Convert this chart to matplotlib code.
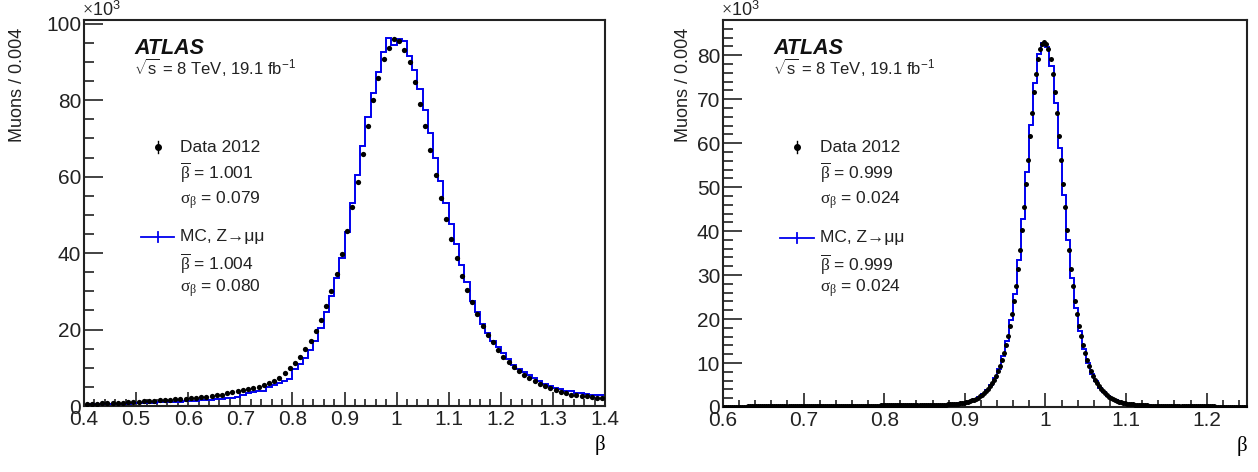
import numpy as np
import matplotlib
matplotlib.use("Agg")
import matplotlib.pyplot as plt
from matplotlib.ticker import MultipleLocator

plt.rcParams['font.family'] = ['Liberation Sans', 'DejaVu Sans']
plt.rcParams['mathtext.fontset'] = 'custom'
plt.rcParams['mathtext.rm'] = 'Liberation Serif'
plt.rcParams['mathtext.it'] = 'Liberation Serif:italic'
plt.rcParams['mathtext.sf'] = 'Liberation Sans'
plt.rcParams['mathtext.default'] = 'rm'

# ---- left panel: data points every 0.01, MC histogram bins of 0.01 (x1000 muons)
left_lo, left_hi, left_w = 0.4, 1.4, 0.01
data_left = [
    0.55, 0.6, 0.65, 0.7, 0.75, 0.8, 0.85, 0.9, 0.95, 1.0,
    1.15, 1.2, 1.3, 1.4, 1.45, 1.55, 1.65, 1.75, 1.85, 1.95,
    2.05, 2.15, 2.3, 2.45, 2.6, 2.8, 3.0, 3.3, 3.6, 3.9,
    4.2, 4.4, 4.6, 4.9, 5.5, 6.1, 6.5, 7.2, 8.6, 9.9,
    11.2, 12.9, 14.9, 17.0, 19.6, 22.6, 26.2, 30.2, 34.6, 39.8,
    45.8, 52.2, 58.6, 65.9, 73.3, 80.1, 85.8, 90.9, 93.8, 96.0,
    95.6, 93.2, 90.1, 84.8, 78.9, 73.3, 67.0, 60.4, 54.4, 48.9,
    43.7, 38.8, 34.1, 30.4, 27.1, 24.0, 21.0, 18.6, 16.7, 14.7,
    12.9, 11.6, 10.3, 9.2, 8.1, 7.3, 6.6, 5.8, 5.2, 4.7,
    4.2, 3.7, 3.3, 3.0, 2.8, 2.6, 2.5, 2.3, 2.2, 2.1,
]
mc_left = [
    0.35, 0.4, 0.45, 0.5, 0.5, 0.55, 0.6, 0.6, 0.65, 0.7,
    0.75, 0.8, 0.85, 0.9, 0.95, 1.0, 1.05, 1.1, 1.15, 1.2,
    1.3, 1.35, 1.45, 1.55, 1.65, 1.75, 1.85, 2.0, 2.15, 2.3,
    3.0, 3.3, 3.6, 3.8, 4.0, 5.0, 5.5, 6.0, 6.5, 7.0,
    9.6, 11.0, 12.6, 14.6, 17.0, 20.3, 24.5, 28.8, 33.5, 38.8,
    45.5, 53.0, 60.5, 68.0, 75.5, 82.0, 87.5, 92.5, 96.3, 94.5,
    96.0, 95.5, 91.5, 88.0, 83.0, 77.5, 71.5, 65.0, 59.0, 53.0,
    47.5, 42.5, 37.0, 32.5, 27.5, 24.5, 21.5, 19.0, 17.0, 15.5,
    13.8, 12.2, 10.8, 9.8, 9.0, 8.0, 7.3, 6.5, 5.8, 5.2,
    4.8, 4.4, 4.0, 3.8, 3.5, 3.3, 3.1, 2.9, 2.8, 2.8,
]

# ---- right panel: data points every 0.0025, MC bins of 0.005 (x1000 muons)
right_lo, right_hi = 0.6, 1.25
right_dw, right_mw = 0.0025, 0.005
data_right = [
    0.10, 0.10, 0.10, 0.10, 0.10, 0.11, 0.11, 0.11, 0.11, 0.11,
    0.11, 0.11, 0.12, 0.12, 0.12, 0.12, 0.12, 0.12, 0.12, 0.13,
    0.13, 0.13, 0.13, 0.13, 0.13, 0.14, 0.14, 0.14, 0.14, 0.14,
    0.15, 0.15, 0.15, 0.15, 0.15, 0.16, 0.16, 0.16, 0.16, 0.17,
    0.17, 0.17, 0.17, 0.18, 0.18, 0.18, 0.19, 0.19, 0.19, 0.20,
    0.20, 0.20, 0.21, 0.21, 0.22, 0.22, 0.22, 0.23, 0.23, 0.24,
    0.24, 0.25, 0.25, 0.26, 0.26, 0.27, 0.27, 0.28, 0.29, 0.29,
    0.30, 0.30, 0.31, 0.32, 0.32, 0.33, 0.34, 0.34, 0.35, 0.36,
    0.36, 0.37, 0.38, 0.38, 0.39, 0.40, 0.41, 0.41, 0.42, 0.43,
    0.44, 0.44, 0.45, 0.46, 0.46, 0.47, 0.47, 0.48, 0.48, 0.49,
    0.49, 0.49, 0.50, 0.50, 0.50, 0.51, 0.51, 0.51, 0.52,
    0.52, 0.55, 0.58, 0.61, 0.65, 0.69, 0.74, 0.79, 0.85, 0.92,
    1.0, 1.1, 1.22, 1.35, 1.5, 1.7, 1.9, 2.15, 2.45, 2.8,
    3.15, 3.6, 4.1, 4.7, 5.4, 6.2, 7.1, 8.1, 9.3, 10.7,
    12.3, 14.1, 16.1, 18.4, 21.1, 24.1, 27.5, 31.3, 35.6, 40.3,
    45.4, 50.8, 56.2, 61.6, 66.8, 71.6, 75.8, 79.2, 81.3, 82.5,
    83.0,
    82.5, 81.3, 79.2, 75.8, 71.6, 66.8, 61.6, 56.2, 50.8, 45.4,
    40.3, 35.6, 31.3, 27.5, 24.1, 21.1, 18.4, 16.1, 14.1, 12.3,
    10.7, 9.3, 8.1, 7.1, 6.2, 5.4, 4.7, 4.1, 3.55, 3.1,
    2.7, 2.35, 2.05, 1.8, 1.6, 1.4, 1.22, 1.08, 0.96, 0.86,
    0.78, 0.71, 0.65, 0.60, 0.55, 0.51, 0.47, 0.44, 0.41, 0.38,
    0.36, 0.34, 0.32, 0.30, 0.29, 0.28, 0.27, 0.26, 0.25, 0.24,
    0.23, 0.22, 0.215, 0.21, 0.20, 0.195, 0.19, 0.18, 0.175, 0.17,
    0.165, 0.16, 0.155, 0.15, 0.145, 0.14, 0.14, 0.135, 0.13, 0.13,
    0.125, 0.12, 0.12, 0.115, 0.11, 0.11, 0.105, 0.105, 0.10, 0.10,
    0.095, 0.095, 0.09, 0.09, 0.09, 0.085, 0.085, 0.08, 0.08, 0.08,
]
mc_right = [
    0.10, 0.10, 0.105, 0.11, 0.11, 0.11, 0.12, 0.12, 0.12, 0.125,
    0.13, 0.13, 0.135, 0.14, 0.14, 0.15, 0.15, 0.155, 0.16, 0.165,
    0.17, 0.175, 0.18, 0.19, 0.195, 0.20, 0.21, 0.22, 0.225, 0.235,
    0.245, 0.255, 0.265, 0.275, 0.29, 0.30, 0.315, 0.325, 0.34, 0.355,
    0.365, 0.38, 0.395, 0.41, 0.425, 0.44, 0.455, 0.47, 0.475, 0.485,
    0.49, 0.50, 0.505, 0.51, 0.52,
    0.565, 0.63, 0.715, 0.82, 0.96, 1.16, 1.43, 1.8, 2.3, 2.98,
    3.85, 5.05, 6.65, 8.7, 11.5, 15.1, 19.75, 25.8, 33.45, 42.85,
    53.5, 64.2, 73.7, 80.25, 82.75, 81.9, 77.5, 69.2, 58.9, 48.1,
    37.95, 29.4, 22.6, 17.25, 13.2, 10.0, 7.6, 5.8, 4.4, 3.33,
    2.53, 1.93, 1.5, 1.15, 0.91, 0.745, 0.625, 0.53, 0.455, 0.395,
    0.35, 0.31, 0.285, 0.265, 0.245, 0.225, 0.213, 0.198, 0.185, 0.173,
    0.163, 0.153, 0.143, 0.138, 0.13, 0.123, 0.118, 0.11, 0.105, 0.10,
    0.095, 0.09, 0.088, 0.083, 0.08,
]

legend_left = ['Data 2012', r'$\overline{\beta}$ = 1.001', r'$\sigma_{\beta}$ = 0.079',
               'MC, Z→μμ', r'$\overline{\beta}$ = 1.004', r'$\sigma_{\beta}$ = 0.080']
legend_right = ['Data 2012', r'$\overline{\beta}$ = 0.999', r'$\sigma_{\beta}$ = 0.024',
                'MC, Z→μμ', r'$\overline{\beta}$ = 0.999', r'$\sigma_{\beta}$ = 0.024']

W, H = 1258, 472
fig = plt.figure(figsize=(W / 100, H / 100), dpi=100)


def px_axes(x0, y0, x1, y1):
    return fig.add_axes([x0 / W, 1 - y1 / H, (x1 - x0) / W, (y1 - y0) / H])


def draw_panel(ax, lo, hi, dw, mw, data, mc, ymax, ymaj, ymin_, ms, legend):
    d_cent = np.arange(len(data)) * dw + lo + dw / 2
    m_edges = np.arange(len(mc) + 1) * mw + lo
    ax.stairs(mc, m_edges, color='#0000ee', lw=1.4, zorder=2, baseline=None)
    ax.plot(d_cent, data, 'o', color='black', ms=ms, mew=0, zorder=3)
    ax.set_xlim(lo, hi)
    ax.set_ylim(0, ymax)
    ax.xaxis.set_major_locator(MultipleLocator(0.1))
    ax.xaxis.set_minor_locator(MultipleLocator(0.02))
    ax.yaxis.set_major_locator(MultipleLocator(ymaj))
    ax.yaxis.set_minor_locator(MultipleLocator(ymin_))
    ax.tick_params(which='both', direction='in', top=False, right=False,
                   labelsize=15, width=1.2, colors='#222222')
    ax.tick_params(axis='x', which='major', length=10, pad=3)
    ax.tick_params(axis='x', which='minor', length=5)
    ax.tick_params(axis='y', which='major', length=14, pad=2)
    ax.tick_params(axis='y', which='minor', length=7)
    ax.xaxis.set_major_formatter(plt.FuncFormatter(lambda v, p: '%g' % round(v, 2)))
    for s in ax.spines.values():
        s.set_linewidth(1.5)
        s.set_color('#222222')
    ax.set_xlabel('β', loc='right', fontsize=15, family='Liberation Serif', labelpad=4)

    tr = ax.transAxes
    # legend drawn by hand, rows in axes fraction
    x_txt = 96 / 521
    rows = [(406 - y) / 386 for y in (147, 172, 200, 237, 263, 288)]
    for txt, yy in zip(legend, rows):
        ax.text(x_txt, yy, txt, transform=tr, fontsize=12.5, va='center', ha='left', color='#222222')
    xm = 74 / 521
    ax.plot([xm], [rows[0]], 'o', color='black', ms=4, transform=tr, clip_on=False)
    ax.plot([xm, xm], [rows[0] - 6 / 386, rows[0] + 6 / 386], color='black', lw=1, transform=tr)
    ax.plot([57 / 521, 90 / 521], [rows[3], rows[3]], color='#0000ee', lw=1.3, transform=tr)
    ax.plot([xm, xm], [rows[3] - 5 / 386, rows[3] + 5 / 386], color='#0000ee', lw=1.3, transform=tr)

    ax.text(50 / 521, (406 - 48) / 386, 'ATLAS', transform=tr, fontsize=15.5,
            weight='bold', style='italic', va='center', ha='left', color='#111111')
    ax.text(50 / 521, (406 - 67) / 386, r'$\sqrt{\mathsf{s}}$ = 8 TeV, 19.1 fb$^{\mathsf{-1}}$',
            transform=tr, fontsize=12, va='center', ha='left', color='#222222')


axL = px_axes(84, 20, 605, 406)
draw_panel(axL, left_lo, left_hi, left_w, left_w, data_left, mc_left, 101, 20, 5, 3.8, legend_left)
axR = px_axes(723, 20, 1247, 407)
draw_panel(axR, right_lo, right_hi, right_dw, right_mw, data_right, mc_right, 88, 10, 2, 3.6, legend_right)

for x0 in (84, 723):
    fig.text((x0 - 2) / W, 1 - 10 / H, r'$\times$10$^{\mathsf{3}}$', fontsize=13,
             ha='left', va='center', color='#222222')
for xl in (18, 684):
    fig.text(xl / W, 1 - 28 / H, 'Muons / 0.004', rotation=90, fontsize=13,
             ha='center', va='top', color='#222222')

fig.savefig('out.png', dpi=100)
